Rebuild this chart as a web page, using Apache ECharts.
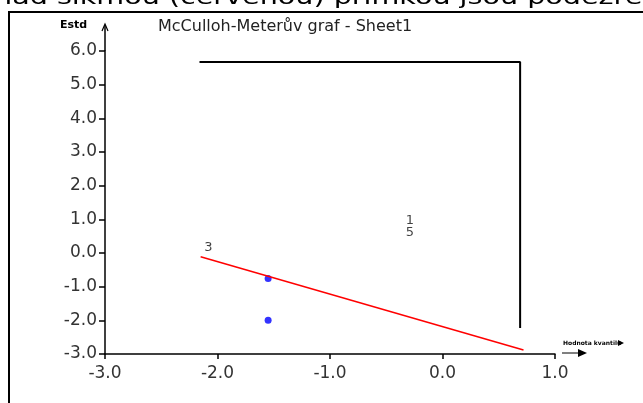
<!DOCTYPE html>
<html><head><meta charset="utf-8">
<script src="https://cdn.jsdelivr.net/npm/echarts@6/dist/echarts.min.js"></script>
<style>html,body{margin:0;padding:0;background:#fff;}#c{width:643px;height:403px;}</style>
</head><body><div id="c"></div>
<script>
// ---- data ----
const titleText = 'McCulloh-Meterův graf - Sheet1';
const pageText = 'nad šikmou (červenou) přímkou jsou podezřelá data';
const yAxisName = 'Estd';
const xAxisName = 'Hodnota kvantilu';
const xMin = -3, xMax = 1, xStep = 1;
const yMin = -3, yMax = 6, yStep = 1;
const pointsX = [-1.55, -1.55];
const pointsY = [-0.76, -2.0];
const redLineX = [-2.15, 0.72];
const redLineY = [-0.11, -2.88];
const limitX = [-2.16, 0.69, 0.69];
const limitY = [5.67, 5.67, -2.23];
const labelNames = ['3', '1', '5'];
const labelX = [-2.08, -0.29, -0.29];
const labelY = [0.15, 0.95, 0.62];

const chart = echarts.init(document.getElementById('c'), null, {renderer: 'canvas'});
const zip = (a, b) => a.map((v, i) => [v, b[i]]);
const axisFont = {fontFamily: 'DejaVu Sans', fontSize: 17, color: '#333'};
chart.setOption({
  animation: false,
  grid: {left: 105, right: 88, top: 51, bottom: 49},
  xAxis: {
    type: 'value', min: xMin, max: xMax, interval: xStep,
    axisLine: {show: true, onZero: false, lineStyle: {color: '#000', width: 1.5}},
    axisTick: {show: true, length: 5, lineStyle: {color: '#000', width: 1.5}},
    axisLabel: Object.assign({margin: 11, formatter: v => v.toFixed(1)}, axisFont),
    splitLine: {show: false}
  },
  yAxis: {
    type: 'value', min: yMin, max: yMax, interval: yStep,
    axisLine: {show: true, onZero: false, lineStyle: {color: '#000', width: 1.5}},
    axisTick: {show: true, length: 6, lineStyle: {color: '#000', width: 1.5}},
    axisLabel: Object.assign({margin: 8, formatter: v => v.toFixed(1)}, axisFont),
    splitLine: {show: false}
  },
  series: [
    {type: 'line', data: zip(limitX, limitY), symbol: 'none',
     lineStyle: {color: '#000', width: 2}},
    {type: 'line', data: zip(redLineX, redLineY), symbol: 'none',
     lineStyle: {color: '#ff0000', width: 1.5}},
    {type: 'scatter', data: zip(pointsX, pointsY), symbolSize: 7,
     itemStyle: {color: '#0000ff'}},
    {type: 'scatter', symbolSize: 1, itemStyle: {color: 'transparent'},
     data: labelNames.map((n, i) => ({name: n, value: [labelX[i], labelY[i]]})),
     label: {show: true, position: 'inside', formatter: p => p.name,
             fontFamily: 'DejaVu Sans', fontSize: 13, color: '#111'}}
  ]
});

const pTop = chart.convertToPixel({gridIndex: 0}, [xMin, yMax]);
const pCorner = chart.convertToPixel({gridIndex: 0}, [xMax, yMin]);
const ax = pTop[0], ayTop = pTop[1];
const bx = pCorner[0], by = pCorner[1];
chart.setOption({
  graphic: [
    {type: 'text', x: -6, y: -13, scaleX: 1.3, silent: true,
     style: {text: pageText, x: 0, y: 0, verticalAlign: 'top', textVerticalAlign: 'top',
             font: '22px "DejaVu Sans"', fill: '#000'}},
    {type: 'rect', shape: {x: 9, y: 12, width: 700, height: 500},
     style: {fill: 'none', stroke: '#000', lineWidth: 2}},
    {type: 'text', left: 158, top: 19,
     style: {text: titleText, font: '16px "DejaVu Sans"', fill: '#222'}},
    {type: 'polyline', shape: {points: [[ax, ayTop], [ax, ayTop - 26]]},
     style: {stroke: '#000', lineWidth: 1.5, fill: 'none'}},
    {type: 'polyline', shape: {points: [[ax - 3, ayTop - 20], [ax, ayTop - 27], [ax + 3, ayTop - 20]]},
     style: {stroke: '#000', lineWidth: 1.2, fill: 'none'}},
    {type: 'text', left: 60, top: 20,
     style: {text: yAxisName, font: 'bold 11px "DejaVu Sans"', fill: '#000'}},
    {type: 'polyline', shape: {points: [[bx + 7, by - 1], [bx + 30, by - 1]]},
     style: {stroke: '#000', lineWidth: 1, fill: 'none'}},
    {type: 'polygon', shape: {points: [[bx + 23, by - 5], [bx + 32, by - 1], [bx + 23, by + 3]]},
     style: {fill: '#000'}},
    {type: 'text', left: bx + 8, top: by - 14,
     style: {text: xAxisName, font: 'bold 6px "DejaVu Sans"', fill: '#000'}},
    {type: 'polygon', shape: {points: [[bx + 63, by - 14], [bx + 69, by - 11], [bx + 63, by - 8]]},
     style: {fill: '#000'}}
  ]
});
</script></body></html>
